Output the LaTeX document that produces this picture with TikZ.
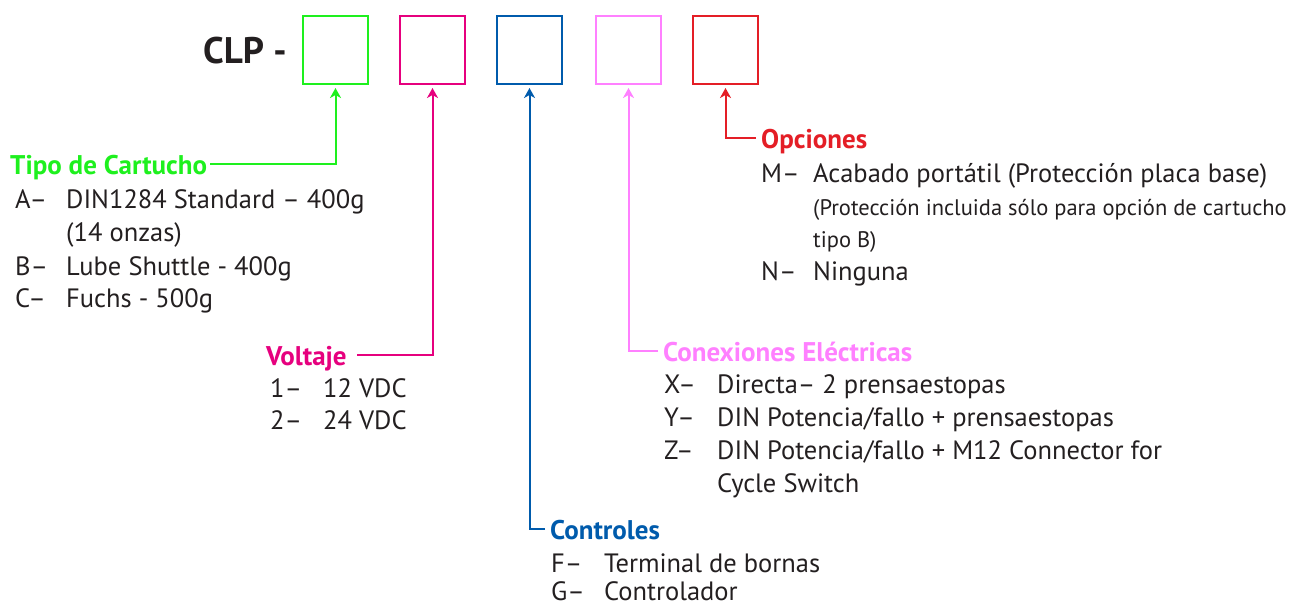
\documentclass[tikz,border=0pt]{standalone}
\usepackage{fontspec}
\setmainfont{PT Sans}
\usetikzlibrary{arrows.meta}
\definecolor{cgreen}{HTML}{1EF01E}
\definecolor{cmag}{HTML}{E6007E}
\definecolor{cblue}{HTML}{005BAC}
\definecolor{cpink}{HTML}{FF80FF}
\definecolor{cred}{HTML}{E41E26}
\definecolor{ctext}{HTML}{231F20}
\begin{document}
\begin{tikzpicture}[x=1pt,y=-1pt,
  codebox/.style={draw,line width=2pt,minimum width=65pt,minimum height=68pt,inner sep=0pt},
  txt/.style={anchor=base west,inner sep=0pt,text=ctext,font=\fontsize{26.5}{30}\selectfont},
  small/.style={anchor=base west,inner sep=0pt,text=ctext,font=\fontsize{22.5}{26}\selectfont},
  ttl/.style={anchor=base west,inner sep=0pt,font=\bfseries\fontsize{27}{31}\selectfont},
  conn/.style={line width=2pt,-{Stealth[length=10pt,width=11pt,inset=3pt]},shorten >=3pt}]
\useasboundingbox (0,0) rectangle (1298,608);

\node[anchor=base west,inner sep=0pt,text=ctext,font=\bfseries\fontsize{37}{41}\selectfont] (clp) at (203,63) {CLP -};

\node[codebox,cgreen] (b1) at (335.5,50) {};
\node[codebox,cmag] (b2) at (432.5,50) {};
\node[codebox,cblue] (b3) at (529.5,50) {};
\node[codebox,cpink] (b4) at (628.5,50) {};
\node[codebox,cred] (b5) at (725.5,50) {};

% Tipo de Cartucho
\node[ttl,text=cgreen] (t1) at (10,174) {Tipo de Cartucho};
\node[txt] (a1) at (15,208) {A–};
\node[txt] (a2) at (66,208) {DIN1284 Standard – 400g};
\node[txt] (a3) at (66,241) {(14 onzas)};
\node[txt] (a4) at (15,275) {B–};
\node[txt] (a5) at (66,275) {Lube Shuttle - 400g};
\node[txt] (a6) at (15,307) {C–};
\node[txt] (a7) at (66,307) {Fuchs - 500g};
\coordinate (c1) at (210,164);
\draw[conn,cgreen] (c1) -| (b1.south);

% Voltaje
\node[ttl,text=cmag] (t2) at (266,365) {Voltaje};
\node[txt] (v1) at (270,397) {1–};
\node[txt] (v2) at (323,397) {12 VDC};
\node[txt] (v3) at (270,429) {2–};
\node[txt] (v4) at (323,429) {24 VDC};
\coordinate (c2) at (357,355);
\draw[conn,cmag] (c2) -| (b2.south);

% Controles
\node[ttl,text=cblue] (t3) at (550,539) {Controles};
\node[txt] (k1) at (551,572) {F–};
\node[txt] (k2) at (604,572) {Terminal de bornas};
\node[txt] (k3) at (551,600) {G–};
\node[txt] (k4) at (604,600) {Controlador};
\coordinate (c3) at (545,529);
\draw[conn,cblue] (c3) -| (b3.south);

% Conexiones
\node[ttl,text=cpink] (t4) at (663,361) {Conexiones Eléctricas};
\node[txt] (e1) at (664,393) {X–};
\node[txt] (e2) at (717,393) {Directa– 2 prensaestopas};
\node[txt] (e3) at (664,426) {Y–};
\node[txt] (e4) at (717,426) {DIN Potencia/fallo + prensaestopas};
\node[txt] (e5) at (664,459) {Z–};
\node[txt] (e6) at (717,459) {DIN Potencia/fallo + M12 Connector for};
\node[txt] (e7) at (717,492) {Cycle Switch};
\coordinate (c4) at (658,351);
\draw[conn,cpink] (c4) -| (b4.south);

% Opciones
\node[ttl,text=cred] (t5) at (761,148) {Opciones};
\node[txt] (o1) at (761,182) {M–};
\node[txt] (o2) at (813,182) {Acabado portátil (Protección placa base)};
\node[small] (o3) at (813,215) {(Protección incluida sólo para opción de cartucho};
\node[small] (o4) at (813,247) {tipo B)};
\node[txt] (o5) at (761,280) {N–};
\node[txt] (o6) at (813,280) {Ninguna};
\coordinate (c5) at (756,138);
\draw[conn,cred] (c5) -| (b5.south);
\end{tikzpicture}
\end{document}
